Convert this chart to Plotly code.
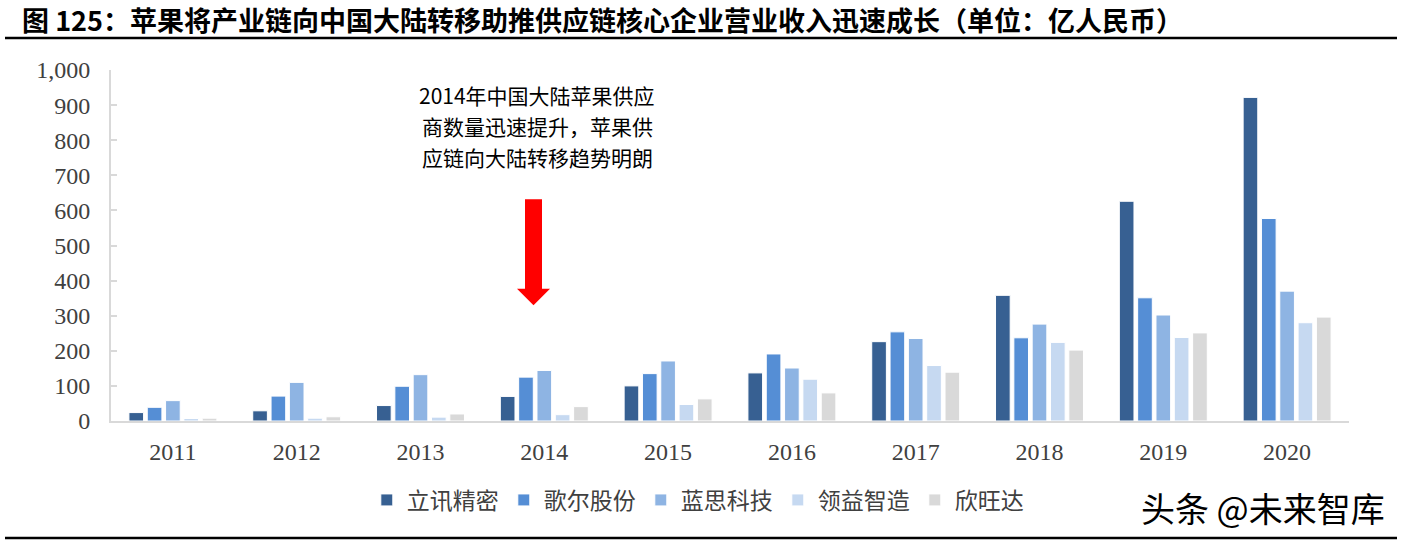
import plotly.graph_objects as go

years = ["2011", "2012", "2013", "2014", "2015", "2016", "2017", "2018", "2019", "2020"]
companies = ["立讯精密", "歌尔股份", "蓝思科技", "领益智造", "欣旺达"]
luxshare = [24, 29, 44, 70, 100, 137, 226, 358, 626, 922]
goertek = [39, 71, 99, 125, 135, 191, 254, 237, 351, 577]
lens = [58, 110, 132, 144, 171, 151, 235, 276, 302, 370]
lingyi = [7, 8, 11, 18, 47, 119, 158, 224, 238, 280]
sunwoda = [8, 12, 20, 41, 63, 80, 139, 202, 251, 296]
series = [luxshare, goertek, lens, lingyi, sunwoda]
colors = ["#376092", "#558ED5", "#8EB4E3", "#C6D9F1", "#D9D9D9"]
yticks = [0, 100, 200, 300, 400, 500, 600, 700, 800, 900, 1000]
yticklabels = ["0", "100", "200", "300", "400", "500", "600", "700", "800", "900", "1,000"]

title_text = "图 125：苹果将产业链向中国大陆转移助推供应链核心企业营业收入迅速成长（单位：亿人民币）"
note_lines = ["2014年中国大陆苹果供应", "商数量迅速提升，苹果供", "应链向大陆转移趋势明朗"]
watermark = "头条 @未来智库"

fig = go.Figure()
for name, vals, c in zip(companies, series, colors):
    fig.add_trace(go.Bar(x=years, y=vals, name=name, marker=dict(color=c, line=dict(color="white", width=1))))

cjk = "Noto Sans CJK SC"
serif = "Liberation Serif"

fig.update_layout(
    width=1402, height=542,
    margin=dict(l=111, r=53, t=70, b=121, autoexpand=False),
    paper_bgcolor="white", plot_bgcolor="white",
    barmode="group", bargap=0.26, bargroupgap=0.2,
    showlegend=True,
    legend=dict(orientation="h", x=0.474, xanchor="center", y=-0.225, yanchor="middle",
                font=dict(family=cjk, size=23, color="#404040"), itemwidth=30, tracegroupgap=0),
    xaxis=dict(type="category", showline=True, linecolor="#D9D9D9", linewidth=2, ticks="",
               ticklabelstandoff=8,
               tickfont=dict(family=serif, size=24, color="#404040"), showgrid=False),
    yaxis=dict(range=[0, 1000], tickvals=yticks, ticktext=yticklabels, showline=True,
               linecolor="#D9D9D9", linewidth=2, ticks="inside", ticklen=6, tickcolor="#D9D9D9",
               tickwidth=2, showgrid=False, zeroline=False, ticklabelstandoff=14,
               tickfont=dict(family=serif, size=24, color="#404040")),
)

def px2paper(px):
    return (px - 111) / 1238

def py2paper(py):
    return (421 - py) / 351

anns = [dict(text="<b>" + title_text + "</b>", xref="paper", yref="paper", x=px2paper(20), xanchor="left",
             y=py2paper(20), yanchor="middle", showarrow=False, font=dict(family=cjk, size=27, color="black"))]
for line, py in zip(note_lines, [95.5, 126, 156.5]):
    anns.append(dict(text=line, xref="paper", yref="paper", x=px2paper(537), xanchor="center",
                     y=py2paper(py), yanchor="middle", showarrow=False,
                     font=dict(family=cjk, size=21, color="black")))
anns.append(dict(text=watermark, xref="paper", yref="paper", x=px2paper(1387), xanchor="right",
                 y=py2paper(507), yanchor="middle", showarrow=False,
                 font=dict(family=cjk, size=34, color="black")))
fig.update_layout(annotations=anns)

sx0, sx1 = px2paper(525), px2paper(542)
hx0, hx1, tip = px2paper(517), px2paper(550), px2paper(533.5)
ytop, yneck, ytip = 632, 377, 330
path = (f"M {sx0} {ytop} L {sx1} {ytop} L {sx1} {yneck} L {hx1} {yneck} L {tip} {ytip} "
        f"L {hx0} {yneck} L {sx0} {yneck} Z")
shapes = [
    dict(type="path", path=path, xref="paper", yref="y", fillcolor="#FF0000", line=dict(width=0)),
    dict(type="line", xref="paper", yref="paper", x0=px2paper(5), x1=px2paper(1397),
         y0=py2paper(38), y1=py2paper(38), line=dict(color="black", width=2.5)),
    dict(type="line", xref="paper", yref="paper", x0=px2paper(5), x1=px2paper(1397),
         y0=py2paper(538), y1=py2paper(538), line=dict(color="black", width=2.5)),
]
fig.update_layout(shapes=shapes)

fig.write_html("out.html", config={"displayModeBar": False},
               post_script="document.body.style.margin='0';")
